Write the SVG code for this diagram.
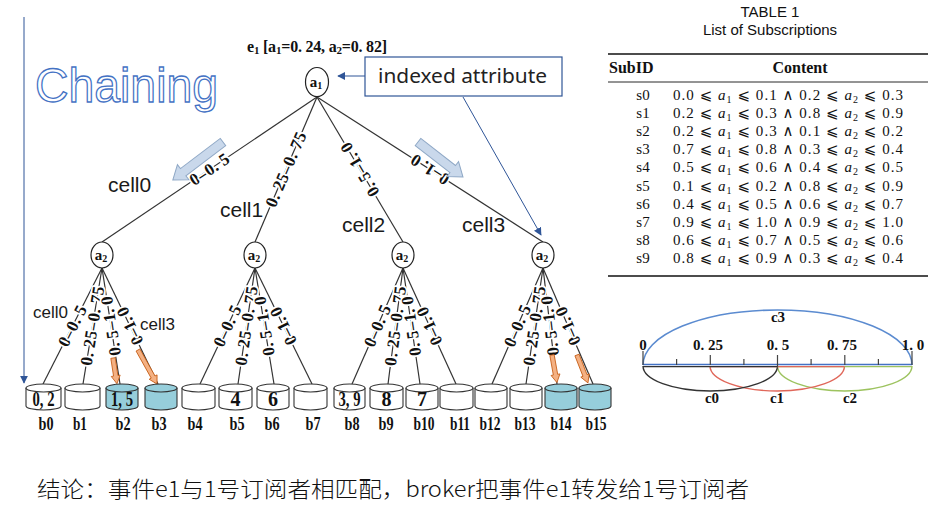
<svg xmlns="http://www.w3.org/2000/svg" width="938" height="518" viewBox="0 0 938 518">
<defs>
<style>
.edge{stroke:#333;stroke-width:1.2;fill:none}
.node{fill:#fff;stroke:#222;stroke-width:1.2}
.nt{font-family:"Liberation Serif",serif;font-weight:bold;font-size:15px;fill:#111;text-anchor:middle}
.el{font-family:"Liberation Serif",serif;font-weight:bold;font-size:17px;fill:#111;text-anchor:middle;dominant-baseline:central;stroke:#fff;stroke-width:3.5;paint-order:stroke;stroke-linejoin:round}
.bk{fill:#fff;stroke:#333;stroke-width:1.1}
.bk.hit{fill:#96CEDB}
.bn{font-family:"Liberation Serif",serif;font-weight:bold;font-size:20px;fill:#111;text-anchor:middle}
.bl{font-family:"Liberation Serif",serif;font-weight:bold;font-size:18px;fill:#111;text-anchor:middle}
.cell{font-family:"Liberation Sans",Arial,sans-serif;fill:#1a1a1a}
.blue{stroke:#2F5597;stroke-width:1;fill:none}
.big{fill:#C9D8EB;stroke:#8FA8C6;stroke-width:1}
.org{fill:#F4B183;stroke:#C55A11;stroke-width:0.8}
.tt{font-family:"Liberation Sans",Arial,sans-serif;font-size:15px;fill:#111;text-anchor:middle}
.th{font-family:"Liberation Serif",serif;font-weight:bold;font-size:16px;fill:#111}
.td{font-family:"Liberation Serif","DejaVu Serif","DejaVu Sans",serif;font-size:15px;fill:#111}
.ax{font-family:"Liberation Serif",serif;font-weight:bold;font-size:15px;fill:#111;text-anchor:middle}
</style>
<marker id="ah" viewBox="0 0 10 10" refX="9" refY="5" markerWidth="8" markerHeight="8" markerUnits="userSpaceOnUse" orient="auto">
<path d="M0,0 L10,5 L0,10 z" fill="#2F5597"/>
</marker>
</defs>
<rect width="938" height="518" fill="#fff"/>

<!-- left vertical arrow -->
<line x1="24" y1="17" x2="24" y2="383" class="blue" marker-end="url(#ah)"/>

<!-- Chaining -->
<text x="35" y="102" font-family="Liberation Sans,Arial,sans-serif" font-size="48" textLength="183" lengthAdjust="spacingAndGlyphs" fill="#fff" stroke="#4472C4" stroke-width="1.3">Chaining</text>

<!-- header -->
<text x="247" y="52" font-family="Liberation Serif,serif" font-weight="bold" font-size="16" fill="#111" textLength="140">e<tspan font-size="11" dy="2">1</tspan><tspan dy="-2"> [a</tspan><tspan font-size="11" dy="2">1</tspan><tspan dy="-2">=0. 24,  a</tspan><tspan font-size="11" dy="2">2</tspan><tspan dy="-2">=0. 82]</tspan></text>

<!-- connectors -->
<g id="connectors">
<line class="edge" x1="317" y1="97" x2="102" y2="242"/>
<line class="edge" x1="317" y1="97" x2="255" y2="242"/>
<line class="edge" x1="317" y1="97" x2="403" y2="242"/>
<line class="edge" x1="317" y1="97" x2="543" y2="242"/>
<line class="edge" x1="102" y1="268" x2="43" y2="384"/>
<line class="edge" x1="102" y1="268" x2="83" y2="384"/>
<line class="edge" x1="102" y1="268" x2="120" y2="384"/>
<line class="edge" x1="102" y1="268" x2="158" y2="384"/>
<line class="edge" x1="255" y1="268" x2="200" y2="384"/>
<line class="edge" x1="255" y1="268" x2="238" y2="384"/>
<line class="edge" x1="255" y1="268" x2="274" y2="384"/>
<line class="edge" x1="255" y1="268" x2="312" y2="384"/>
<line class="edge" x1="403" y1="268" x2="352" y2="384"/>
<line class="edge" x1="403" y1="268" x2="388" y2="384"/>
<line class="edge" x1="403" y1="268" x2="420" y2="384"/>
<line class="edge" x1="403" y1="268" x2="456" y2="384"/>
<line class="edge" x1="543" y1="268" x2="492" y2="384"/>
<line class="edge" x1="543" y1="268" x2="526" y2="384"/>
<line class="edge" x1="543" y1="268" x2="557" y2="384"/>
<line class="edge" x1="543" y1="268" x2="593" y2="384"/>
<!-- edge labels -->
<text class="el" transform="translate(209.5,169.5) rotate(-34)" textLength="44">0–0. 5</text>
<text class="el" transform="translate(286,169.5) rotate(-66.8)" textLength="80">0. 25–0. 75</text>
<text class="el" transform="translate(360,169.5) rotate(-120.7)" textLength="60">0. 5–1. 0</text>
<text class="el" transform="translate(430,169.5) rotate(-147.3)" textLength="42">0–1. 0</text>

<text class="el" transform="translate(72.5,326) rotate(-63)" textLength="44">0–0. 5</text>
<text class="el" transform="translate(92.5,326) rotate(-80.7)" textLength="80">0. 25–0. 75</text>
<text class="el" transform="translate(111,326) rotate(-98.8)" textLength="60">0. 5–1. 0</text>
<text class="el" transform="translate(130,326) rotate(-115.8)" textLength="40">0–1. 0</text>

<text class="el" transform="translate(227.5,326) rotate(-64.6)" textLength="44">0–0. 5</text>
<text class="el" transform="translate(246.5,326) rotate(-81.7)" textLength="80">0. 25–0. 75</text>
<text class="el" transform="translate(264.5,326) rotate(-99.3)" textLength="60">0. 5–1. 0</text>
<text class="el" transform="translate(283.5,326) rotate(-116.2)" textLength="40">0–1. 0</text>

<text class="el" transform="translate(377.5,326) rotate(-66.3)" textLength="44">0–0. 5</text>
<text class="el" transform="translate(395.5,326) rotate(-82.6)" textLength="80">0. 25–0. 75</text>
<text class="el" transform="translate(411.5,326) rotate(-98.3)" textLength="60">0. 5–1. 0</text>
<text class="el" transform="translate(429.5,326) rotate(-114.6)" textLength="40">0–1. 0</text>

<text class="el" transform="translate(517.5,326) rotate(-66.3)" textLength="44">0–0. 5</text>
<text class="el" transform="translate(534.5,326) rotate(-81.7)" textLength="80">0. 25–0. 75</text>
<text class="el" transform="translate(550,326) rotate(-96.9)" textLength="60">0. 5–1. 0</text>
<text class="el" transform="translate(568,326) rotate(-113.3)" textLength="40">0–1. 0</text>

<!-- annotation arrows -->
<line class="blue" x1="365" y1="76" x2="338" y2="76" marker-end="url(#ah)"/>
<line class="blue" x1="463" y1="97" x2="541" y2="235" marker-end="url(#ah)"/>
</g>

<!-- big block arrows -->
<polygon class="big" transform="translate(223,142) rotate(142.8)" points="0,-4.5 50,-4.5 50,-9.5 63,0 50,9.5 50,4.5 0,4.5"/>
<polygon class="big" transform="translate(418,142) rotate(37.9)" points="0,-4.5 44,-4.5 44,-9.5 57,0 44,9.5 44,4.5 0,4.5"/>

<!-- orange arrows -->
<polygon class="org" transform="translate(113,358) rotate(81.3)" points="0,-2.2 18,-2.2 18,-4.5 26,0 18,4.5 18,2.2 0,2.2"/>
<polygon class="org" transform="translate(138,350) rotate(60.8)" points="0,-2.2 31,-2.2 31,-4.5 39,0 31,4.5 31,2.2 0,2.2"/>
<polygon class="org" transform="translate(552,355) rotate(79.9)" points="0,-2.2 20,-2.2 20,-4.5 28,0 20,4.5 20,2.2 0,2.2"/>
<polygon class="org" transform="translate(577,355) rotate(68.6)" points="0,-2.2 22,-2.2 22,-4.5 30,0 22,4.5 22,2.2 0,2.2"/>

<!-- indexed attribute box -->
<g id="indexed-attribute">
<rect x="365" y="57" width="197" height="39" fill="#fff" stroke="#2F5597" stroke-width="1.2"/>
<text x="378" y="83" font-family="Noto Sans,Liberation Sans,sans-serif" font-size="20" textLength="169" lengthAdjust="spacingAndGlyphs" fill="#222">indexed attribute</text>
</g>

<!-- nodes -->
<g id="root-a1"><ellipse class="node" cx="317" cy="82" rx="11.5" ry="14.5"/><text class="nt" x="316" y="87">a<tspan font-size="10" dy="2">1</tspan></text></g>
<g id="a2-0"><ellipse class="node" cx="102" cy="255" rx="11" ry="13"/><text class="nt" x="101" y="260">a<tspan font-size="10" dy="2">2</tspan></text></g>
<g id="a2-1"><ellipse class="node" cx="255" cy="255" rx="11" ry="13"/><text class="nt" x="254" y="260">a<tspan font-size="10" dy="2">2</tspan></text></g>
<g id="a2-2"><ellipse class="node" cx="403" cy="255" rx="11" ry="13"/><text class="nt" x="402" y="260">a<tspan font-size="10" dy="2">2</tspan></text></g>
<g id="a2-3"><ellipse class="node" cx="543" cy="255" rx="11" ry="13"/><text class="nt" x="542" y="260">a<tspan font-size="10" dy="2">2</tspan></text></g>

<!-- cell labels -->
<text class="cell" x="108" y="192" font-size="21">cell0</text>
<text class="cell" x="220" y="217" font-size="21">cell1</text>
<text class="cell" x="342" y="232" font-size="21">cell2</text>
<text class="cell" x="462" y="232" font-size="21">cell3</text>
<text class="cell" x="33" y="318" font-size="17">cell0</text>
<text class="cell" x="140" y="330" font-size="17">cell3</text>

<!-- buckets -->
<g id="b0"><path class="bk" d="M26,388V406A17.5,4 0 0 0 61,406V388"/><ellipse class="bk" cx="43.5" cy="388" rx="17.5" ry="4"/><text class="bn" x="43.5" y="406" textLength="22" lengthAdjust="spacingAndGlyphs">0, 2</text><text class="bl" x="46" y="430" textLength="15" lengthAdjust="spacingAndGlyphs">b0</text></g>
<g id="b1"><path class="bk" d="M65,388V406A17.5,4 0 0 0 100,406V388"/><ellipse class="bk" cx="82.5" cy="388" rx="17.5" ry="4"/><text class="bl" x="80" y="430" textLength="14" lengthAdjust="spacingAndGlyphs">b1</text></g>
<g id="b2"><path class="bk hit" d="M106,388V406A16,4 0 0 0 138,406V388"/><ellipse class="bk hit" cx="122" cy="388" rx="16" ry="4"/><text class="bn" x="122" y="406" textLength="22" lengthAdjust="spacingAndGlyphs">1, 5</text><text class="bl" x="123" y="430" textLength="15" lengthAdjust="spacingAndGlyphs">b2</text></g>
<g id="b3"><path class="bk hit" d="M145,388V406A16,4 0 0 0 177,406V388"/><ellipse class="bk hit" cx="161" cy="388" rx="16" ry="4"/><text class="bl" x="159" y="430" textLength="15" lengthAdjust="spacingAndGlyphs">b3</text></g>
<g id="b4"><path class="bk" d="M182,388V406A16.5,4 0 0 0 215,406V388"/><ellipse class="bk" cx="198.5" cy="388" rx="16.5" ry="4"/><text class="bl" x="195" y="430" textLength="15" lengthAdjust="spacingAndGlyphs">b4</text></g>
<g id="b5"><path class="bk" d="M219,388V406A16.5,4 0 0 0 252,406V388"/><ellipse class="bk" cx="235.5" cy="388" rx="16.5" ry="4"/><text class="bn" x="235.5" y="406">4</text><text class="bl" x="237" y="430" textLength="15" lengthAdjust="spacingAndGlyphs">b5</text></g>
<g id="b6"><path class="bk" d="M257,388V406A16,4 0 0 0 289,406V388"/><ellipse class="bk" cx="273" cy="388" rx="16" ry="4"/><text class="bn" x="273" y="406">6</text><text class="bl" x="272" y="430" textLength="15" lengthAdjust="spacingAndGlyphs">b6</text></g>
<g id="b7"><path class="bk" d="M294,388V406A16.5,4 0 0 0 327,406V388"/><ellipse class="bk" cx="310.5" cy="388" rx="16.5" ry="4"/><text class="bl" x="313" y="430" textLength="15" lengthAdjust="spacingAndGlyphs">b7</text></g>
<g id="b8"><path class="bk" d="M334,388V406A15.5,4 0 0 0 365,406V388"/><ellipse class="bk" cx="349.5" cy="388" rx="15.5" ry="4"/><text class="bn" x="349.5" y="406" textLength="22" lengthAdjust="spacingAndGlyphs">3, 9</text><text class="bl" x="352" y="430" textLength="15" lengthAdjust="spacingAndGlyphs">b8</text></g>
<g id="b9"><path class="bk" d="M370,388V406A16.5,4 0 0 0 403,406V388"/><ellipse class="bk" cx="386.5" cy="388" rx="16.5" ry="4"/><text class="bn" x="386.5" y="406">8</text><text class="bl" x="386" y="430" textLength="15" lengthAdjust="spacingAndGlyphs">b9</text></g>
<g id="b10"><path class="bk" d="M406,388V406A16,4 0 0 0 438,406V388"/><ellipse class="bk" cx="422" cy="388" rx="16" ry="4"/><text class="bn" x="422" y="406">7</text><text class="bl" x="424" y="430" textLength="21" lengthAdjust="spacingAndGlyphs">b10</text></g>
<g id="b11"><path class="bk" d="M440,388V406A16.5,4 0 0 0 473,406V388"/><ellipse class="bk" cx="456.5" cy="388" rx="16.5" ry="4"/><text class="bl" x="460" y="430" textLength="20" lengthAdjust="spacingAndGlyphs">b11</text></g>
<g id="b12"><path class="bk" d="M475,388V406A16,4 0 0 0 507,406V388"/><ellipse class="bk" cx="491" cy="388" rx="16" ry="4"/><text class="bl" x="490" y="430" textLength="21" lengthAdjust="spacingAndGlyphs">b12</text></g>
<g id="b13"><path class="bk" d="M510,388V406A16,4 0 0 0 542,406V388"/><ellipse class="bk" cx="526" cy="388" rx="16" ry="4"/><text class="bl" x="525" y="430" textLength="21" lengthAdjust="spacingAndGlyphs">b13</text></g>
<g id="b14"><path class="bk hit" d="M545,388V406A16,4 0 0 0 577,406V388"/><ellipse class="bk hit" cx="561" cy="388" rx="16" ry="4"/><text class="bl" x="561" y="430" textLength="21" lengthAdjust="spacingAndGlyphs">b14</text></g>
<g id="b15"><path class="bk hit" d="M579,388V406A16,4 0 0 0 611,406V388"/><ellipse class="bk hit" cx="595" cy="388" rx="16" ry="4"/><text class="bl" x="596" y="430" textLength="21" lengthAdjust="spacingAndGlyphs">b15</text></g>

<!-- table -->
<g id="table">
<text class="tt" x="770" y="17">TABLE 1</text>
<text class="tt" x="770" y="35">List of Subscriptions</text>
<line x1="608" y1="54" x2="928" y2="54" stroke="#111" stroke-width="1.6"/>
<text class="th" x="609" y="73">SubID</text>
<text class="th" x="800" y="73" text-anchor="middle">Content</text>
<line x1="608" y1="82" x2="928" y2="82" stroke="#111" stroke-width="0.9"/>
<g class="td">
<text x="643" y="100" text-anchor="middle">s0</text>
<text x="643" y="118" text-anchor="middle">s1</text>
<text x="643" y="136" text-anchor="middle">s2</text>
<text x="643" y="154" text-anchor="middle">s3</text>
<text x="643" y="172" text-anchor="middle">s4</text>
<text x="643" y="191" text-anchor="middle">s5</text>
<text x="643" y="209" text-anchor="middle">s6</text>
<text x="643" y="227" text-anchor="middle">s7</text>
<text x="643" y="245" text-anchor="middle">s8</text>
<text x="643" y="263" text-anchor="middle">s9</text>
<text x="673" y="100" textLength="230">0.0 ⩽ <tspan font-style="italic">a</tspan><tspan font-size="10" dy="3">1</tspan><tspan dy="-3"> ⩽ 0.1 ∧ 0.2 ⩽ </tspan><tspan font-style="italic">a</tspan><tspan font-size="10" dy="3">2</tspan><tspan dy="-3"> ⩽ 0.3</tspan></text>
<text x="673" y="118" textLength="230">0.2 ⩽ <tspan font-style="italic">a</tspan><tspan font-size="10" dy="3">1</tspan><tspan dy="-3"> ⩽ 0.3 ∧ 0.8 ⩽ </tspan><tspan font-style="italic">a</tspan><tspan font-size="10" dy="3">2</tspan><tspan dy="-3"> ⩽ 0.9</tspan></text>
<text x="673" y="136" textLength="230">0.2 ⩽ <tspan font-style="italic">a</tspan><tspan font-size="10" dy="3">1</tspan><tspan dy="-3"> ⩽ 0.3 ∧ 0.1 ⩽ </tspan><tspan font-style="italic">a</tspan><tspan font-size="10" dy="3">2</tspan><tspan dy="-3"> ⩽ 0.2</tspan></text>
<text x="673" y="154" textLength="230">0.7 ⩽ <tspan font-style="italic">a</tspan><tspan font-size="10" dy="3">1</tspan><tspan dy="-3"> ⩽ 0.8 ∧ 0.3 ⩽ </tspan><tspan font-style="italic">a</tspan><tspan font-size="10" dy="3">2</tspan><tspan dy="-3"> ⩽ 0.4</tspan></text>
<text x="673" y="172" textLength="230">0.5 ⩽ <tspan font-style="italic">a</tspan><tspan font-size="10" dy="3">1</tspan><tspan dy="-3"> ⩽ 0.6 ∧ 0.4 ⩽ </tspan><tspan font-style="italic">a</tspan><tspan font-size="10" dy="3">2</tspan><tspan dy="-3"> ⩽ 0.5</tspan></text>
<text x="673" y="191" textLength="230">0.1 ⩽ <tspan font-style="italic">a</tspan><tspan font-size="10" dy="3">1</tspan><tspan dy="-3"> ⩽ 0.2 ∧ 0.8 ⩽ </tspan><tspan font-style="italic">a</tspan><tspan font-size="10" dy="3">2</tspan><tspan dy="-3"> ⩽ 0.9</tspan></text>
<text x="673" y="209" textLength="230">0.4 ⩽ <tspan font-style="italic">a</tspan><tspan font-size="10" dy="3">1</tspan><tspan dy="-3"> ⩽ 0.5 ∧ 0.6 ⩽ </tspan><tspan font-style="italic">a</tspan><tspan font-size="10" dy="3">2</tspan><tspan dy="-3"> ⩽ 0.7</tspan></text>
<text x="673" y="227" textLength="230">0.9 ⩽ <tspan font-style="italic">a</tspan><tspan font-size="10" dy="3">1</tspan><tspan dy="-3"> ⩽ 1.0 ∧ 0.9 ⩽ </tspan><tspan font-style="italic">a</tspan><tspan font-size="10" dy="3">2</tspan><tspan dy="-3"> ⩽ 1.0</tspan></text>
<text x="673" y="245" textLength="230">0.6 ⩽ <tspan font-style="italic">a</tspan><tspan font-size="10" dy="3">1</tspan><tspan dy="-3"> ⩽ 0.7 ∧ 0.5 ⩽ </tspan><tspan font-style="italic">a</tspan><tspan font-size="10" dy="3">2</tspan><tspan dy="-3"> ⩽ 0.6</tspan></text>
<text x="673" y="263" textLength="230">0.8 ⩽ <tspan font-style="italic">a</tspan><tspan font-size="10" dy="3">1</tspan><tspan dy="-3"> ⩽ 0.9 ∧ 0.3 ⩽ </tspan><tspan font-style="italic">a</tspan><tspan font-size="10" dy="3">2</tspan><tspan dy="-3"> ⩽ 0.4</tspan></text>
</g>
<line x1="608" y1="276" x2="928" y2="276" stroke="#111" stroke-width="1.6"/>
</g>

<!-- interval diagram -->
<g id="intervals">
<path d="M643,365 A134.5,55 0 0 1 912,365" fill="none" stroke="#5B8BD0" stroke-width="1.6"/>
<path d="M777.5,366 A67.25,25 0 0 0 912,366" fill="none" stroke="#9DC35F" stroke-width="1.4"/>
<path d="M710,366 A67.25,25 0 0 0 844.5,366" fill="none" stroke="#E0675A" stroke-width="1.4"/>
<path d="M643,366 A67.25,25 0 0 0 777.5,366" fill="none" stroke="#333" stroke-width="1.4"/>
<line x1="777.5" y1="366.6" x2="912" y2="366.6" stroke="#9DC35F" stroke-width="1.4"/>
<line x1="710" y1="366.6" x2="844.5" y2="366.6" stroke="#E0675A" stroke-width="1.4"/>
<line x1="643" y1="366.6" x2="777.5" y2="366.6" stroke="#333" stroke-width="1.4"/>
<line x1="643" y1="364.5" x2="912" y2="364.5" stroke="#4472C4" stroke-width="1.6"/>
<g stroke="#444" stroke-width="1.2">
<line x1="643" y1="351" x2="643" y2="365"/>
<line x1="676.6" y1="359" x2="676.6" y2="365"/>
<line x1="710.3" y1="355" x2="710.3" y2="365"/>
<line x1="743.9" y1="359" x2="743.9" y2="365"/>
<line x1="777.5" y1="355" x2="777.5" y2="367"/>
<line x1="811.1" y1="359" x2="811.1" y2="365"/>
<line x1="844.8" y1="355" x2="844.8" y2="365"/>
<line x1="878.4" y1="359" x2="878.4" y2="365"/>
<line x1="912" y1="351" x2="912" y2="365"/>
</g>
<text class="ax" x="643" y="350">0</text>
<text class="ax" x="708" y="350">0. 25</text>
<text class="ax" x="778" y="350">0. 5</text>
<text class="ax" x="842" y="350">0. 75</text>
<text class="ax" x="913" y="350">1. 0</text>
<text class="ax" x="778" y="322">c3</text>
<text class="ax" x="712" y="403">c0</text>
<text class="ax" x="777" y="403">c1</text>
<text class="ax" x="850" y="403">c2</text>
</g>

<!-- conclusion -->
<text x="37" y="497" font-family="Noto Sans CJK SC,Noto Sans,sans-serif" font-weight="300" font-size="22" textLength="712" lengthAdjust="spacingAndGlyphs" fill="#111">结论：事件e1与1号订阅者相匹配，broker把事件e1转发给1号订阅者</text>
</svg>
